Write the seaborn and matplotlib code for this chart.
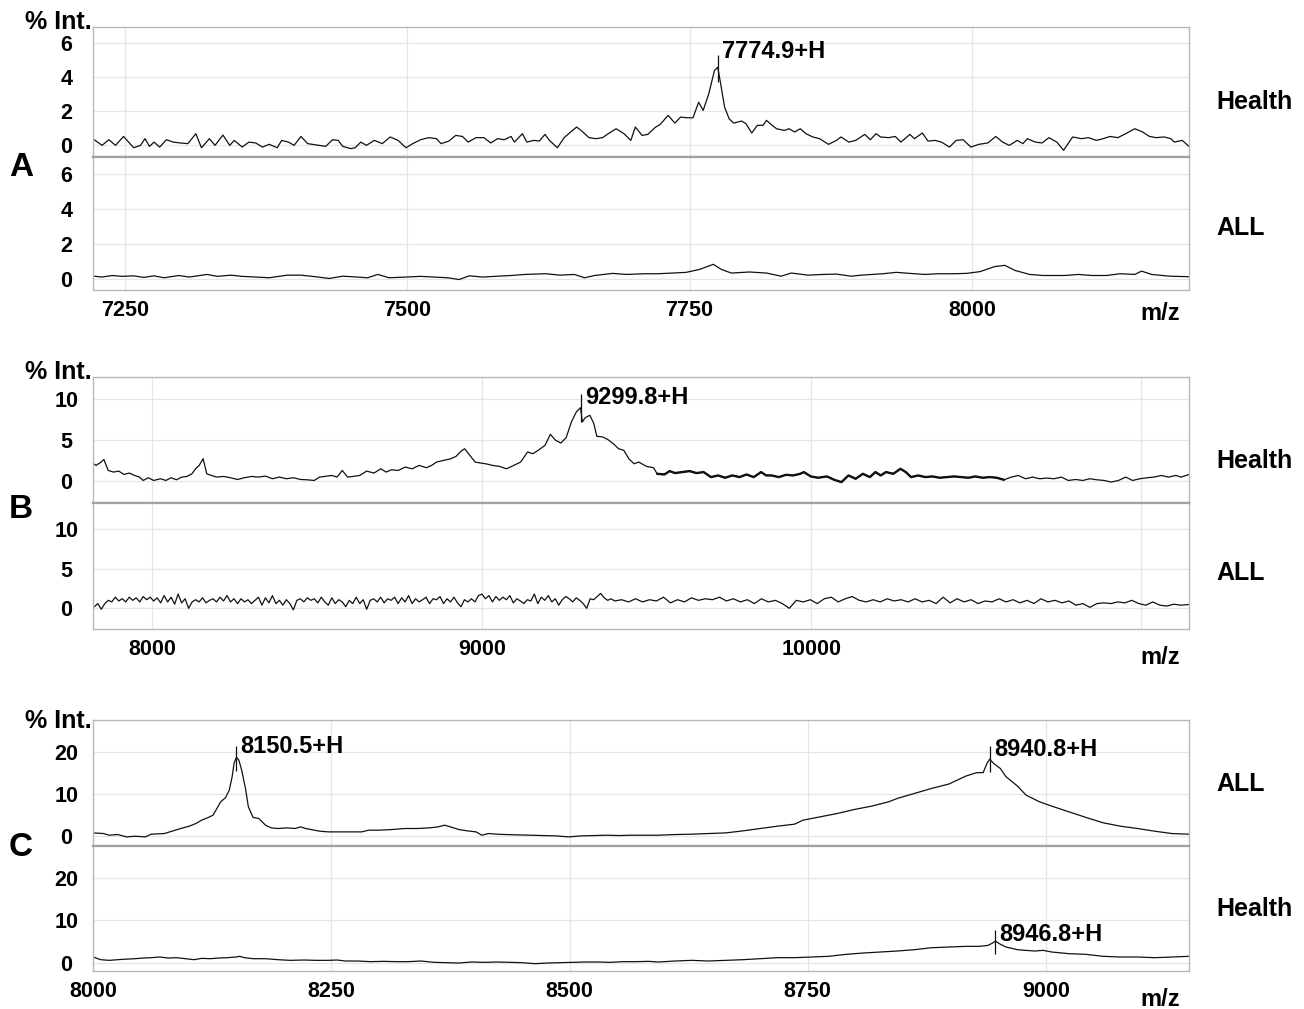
import matplotlib
matplotlib.use('Agg')
import matplotlib.pyplot as plt
import seaborn as sns
import numpy as np

# ---------------- panel A (m/z 7222-8192) ----------------
a_health_mz = [7223, 7230, 7236, 7242, 7249, 7258, 7264, 7268, 7272, 7276,
               7281, 7287, 7293, 7299, 7306, 7313, 7318, 7325, 7330, 7337,
               7343, 7347, 7354, 7360, 7366, 7372, 7378, 7385, 7389, 7395,
               7400, 7406, 7412, 7422, 7428, 7434, 7439, 7443, 7450, 7454,
               7459, 7464, 7471, 7478, 7485, 7492, 7499, 7505, 7512, 7519,
               7526, 7530, 7537, 7543, 7549, 7554, 7561, 7568, 7574, 7580,
               7586, 7592, 7595, 7602, 7606, 7612, 7617, 7622, 7626, 7633,
               7639, 7643, 7650, 7654, 7661, 7667, 7673, 7678, 7685, 7692,
               7698, 7702,
               7708, 7713, 7720, 7724, 7731, 7737, 7742, 7748, 7753, 7758,
               7762, 7767, 7772, 7774.9, 7777, 7781, 7785, 7789, 7796, 7800,
               7805, 7810, 7815, 7818, 7823, 7827, 7834, 7838, 7843, 7848,
               7853, 7859, 7865, 7873, 7880, 7884, 7891, 7897, 7905, 7910,
               7915, 7919, 7926, 7932, 7937, 7945, 7949, 7956, 7961, 7967,
               7973, 7980, 7986, 7992, 7999, 8006, 8014, 8021, 8027, 8033,
               8040, 8045, 8049, 8056, 8062, 8068, 8075, 8081, 8089, 8097,
               8103, 8110, 8116, 8122, 8129, 8136, 8144, 8151, 8157, 8163,
               8170, 8176, 8179, 8186, 8192]
a_health_int = [0.33, 0.0, 0.33, 0.0, 0.52, -0.14, 0.0, 0.39, -0.06, 0.19,
                -0.1, 0.33, 0.19, 0.14, 0.1, 0.68, -0.14, 0.39, 0.0, 0.6,
                0.0, 0.29, -0.1, 0.19, 0.14, -0.1, 0.06, -0.14, 0.29, 0.19,
                0.0, 0.52, 0.1, 0.0, -0.06, 0.33, 0.29, -0.06, -0.19, -0.14,
                0.19, 0.0, 0.29, 0.1, 0.49, 0.29, -0.14, 0.1, 0.33, 0.45,
                0.39, 0.1, 0.25, 0.58, 0.52, 0.19, 0.45, 0.45, 0.14, 0.39,
                0.33, 0.52, 0.19, 0.68, 0.19, 0.29, 0.25, 0.64, 0.29, -0.14,
                0.45, 0.68, 1.07, 0.87, 0.45, 0.39, 0.45, 0.68, 0.97, 0.68,
                0.29, 1.07,
                0.58, 0.64, 1.07, 1.22, 1.75, 1.3, 1.65, 1.61, 1.61, 2.52,
                2.04, 3.01, 4.37, 4.56, 3.79, 2.23, 1.55, 1.3, 1.42, 1.26,
                0.72, 1.17, 1.17, 1.46, 1.17, 0.97, 0.87, 0.97, 0.78, 0.97,
                0.68, 0.49, 0.39, 0.06, 0.29, 0.49, 0.19, 0.29, 0.64, 0.33,
                0.68, 0.49, 0.45, 0.52, 0.19, 0.64, 0.39, 0.72, 0.25, 0.29,
                0.19, -0.1, 0.29, 0.33, -0.1, 0.06, 0.14, 0.52, 0.19, 0.0,
                0.29, 0.1, 0.39, 0.19, 0.14, 0.45, 0.19, -0.29, 0.49, 0.39,
                0.45, 0.29, 0.39, 0.52, 0.45, 0.68, 0.97, 0.78, 0.52, 0.45,
                0.49, 0.39, 0.19, 0.29, -0.06]

a_all_mz = [7223, 7230, 7239, 7248, 7258, 7267, 7276, 7285, 7298, 7307,
            7323, 7332, 7344, 7354, 7366, 7378, 7394, 7406, 7419, 7431,
            7443, 7456, 7465, 7474, 7484, 7499, 7512, 7524, 7536, 7546,
            7555, 7567, 7580, 7592, 7604, 7623, 7635, 7648, 7657, 7666,
            7682, 7694, 7710, 7722, 7735, 7747, 7759, 7771, 7778, 7787,
            7803, 7818, 7831, 7840, 7855, 7868, 7880, 7893, 7902, 7921,
            7933, 7945, 7958, 7970, 7983, 7995, 8007, 8020, 8029, 8038,
            8051, 8063, 8082, 8094, 8106, 8119, 8131, 8144, 8150, 8159,
            8175, 8192]
a_all_int = [0.14, 0.09, 0.18, 0.13, 0.16, 0.07, 0.16, 0.05, 0.18, 0.09,
             0.24, 0.13, 0.2, 0.13, 0.09, 0.05, 0.2, 0.2, 0.11, 0.01,
             0.14, 0.09, 0.05, 0.24, 0.05, 0.09, 0.13, 0.09, 0.05, -0.05,
             0.16, 0.09, 0.14, 0.18, 0.24, 0.28, 0.2, 0.24, 0.05, 0.18,
             0.3, 0.24, 0.28, 0.28, 0.32, 0.36, 0.53, 0.82, 0.53, 0.32,
             0.38, 0.32, 0.14, 0.32, 0.2, 0.24, 0.26, 0.14, 0.2, 0.28,
             0.36, 0.3, 0.24, 0.28, 0.28, 0.3, 0.4, 0.69, 0.76, 0.47,
             0.24, 0.18, 0.18, 0.24, 0.18, 0.18, 0.28, 0.24, 0.43, 0.24,
             0.14, 0.11]

# ---------------- panel B (m/z 7821-11145) ----------------
b_health_mz = [7823, 7830, 7846, 7854, 7867, 7883, 7899, 7915, 7931, 7947,
               7962, 7973, 7989, 8005, 8026, 8042, 8058, 8074, 8090, 8106,
               8121, 8132, 8143, 8155, 8166, 8180, 8196, 8217, 8238, 8259,
               8280, 8302, 8323, 8344, 8365, 8386, 8408, 8429, 8450, 8471,
               8492, 8508, 8524, 8545, 8561, 8577, 8593, 8609, 8630, 8651,
               8673, 8694, 8710, 8726, 8747, 8768, 8789, 8810, 8832, 8848,
               8863, 8885, 8906, 8922, 8938, 8948, 8964, 8980, 8996, 9012,
               9033, 9054, 9075, 9097, 9118, 9139, 9155, 9171, 9192, 9208,
               9224, 9240, 9256, 9272, 9287, 9299.8, 9305, 9314, 9328, 9340,
               9349, 9367, 9383, 9399, 9415, 9431, 9446, 9462, 9476,
               9500, 9521, 9532, 9554, 9570, 9586, 9608, 9630, 9651, 9673,
               9695, 9717, 9738, 9760, 9782, 9803, 9825, 9847, 9863, 9879,
               9901, 9923, 9944, 9966, 9977, 9998, 10020, 10047, 10069, 10091,
               10112, 10134, 10156, 10177, 10194, 10210, 10226, 10248, 10270, 10286,
               10302, 10324, 10345, 10367, 10389, 10411, 10432, 10454, 10476, 10497,
               10519, 10541, 10562, 10584, 10606, 10627, 10649, 10671, 10692, 10714,
               10736, 10758, 10779, 10801, 10823, 10844, 10866, 10888, 10909, 10931,
               10953, 10974, 10996, 11018, 11039, 11061, 11083, 11105, 11121, 11145]
b_health_int = [2.15, 1.95, 2.36, 2.68, 1.34, 1.14, 1.26, 0.85, 1.02, 0.73,
                0.53, 0.12, 0.45, 0.12, 0.33, 0.12, 0.45, 0.2, 0.53, 0.61,
                0.93, 1.54, 1.95, 2.76, 0.93, 0.73, 0.53, 0.61, 0.45, 0.24,
                0.45, 0.61, 0.53, 0.65, 0.33, 0.53, 0.33, 0.45, 0.24, 0.2,
                0.12, 0.53, 0.61, 0.73, 0.53, 1.34, 0.53, 0.61, 0.73, 1.26,
                1.02, 1.54, 1.14, 1.42, 1.34, 1.75, 1.54, 1.95, 1.67, 1.95,
                2.36, 2.56, 2.76, 3.05, 3.7, 3.98, 3.17, 2.36, 2.24, 2.15,
                1.95, 1.83, 1.54, 1.95, 2.36, 3.58, 3.37, 3.78, 4.39, 5.73,
                5.0, 4.67, 5.33, 7.24, 8.46, 8.98, 7.24, 7.76, 8.05, 7.03,
                5.49, 5.41, 5.08, 4.59, 3.98, 3.78, 2.76, 2.15, 2.36,
                1.83, 1.67, 0.93, 0.85, 1.26, 1.02, 1.14, 1.26, 1.02, 1.14,
                0.53, 0.73, 0.45, 0.73, 0.53, 0.85, 0.53, 1.14, 0.73, 0.73,
                0.53, 0.81, 0.73, 0.93, 1.14, 0.61, 0.45, 0.61, 0.2, -0.08,
                0.73, 0.33, 0.93, 0.53, 1.14, 0.73, 1.14, 0.93, 1.54, 1.14,
                0.53, 0.73, 0.53, 0.61, 0.45, 0.53, 0.61, 0.53, 0.45, 0.61,
                0.45, 0.53, 0.45, 0.2, 0.53, 0.73, 0.33, 0.53, 0.33, 0.41,
                0.33, 0.53, 0.12, 0.24, 0.12, 0.33, 0.2, 0.12, -0.08, 0.12,
                0.53, 0.12, 0.33, 0.45, 0.53, 0.73, 0.53, 0.73, 0.53, 0.85]
b_health_dense = (9532, 10584)   # stretch drawn heavier in the source

b_all_int = [0.16, 0.56, -0.16, 0.56, 0.97, 0.77, 1.37, 0.89, 1.17, 0.77,
             1.37, 0.97, 1.29, 0.77, 1.45, 1.05, 1.37, 0.89, 1.29, 0.65,
             1.57, 0.77, 1.37, 0.48, 1.77, 0.65, 1.17, -0.04, 0.77, 1.05,
             0.77, 1.29, 0.65, 0.97, 1.17, 0.77, 1.37, 0.89, 1.57, 0.77,
             1.17, 0.56, 1.17, 0.77, 1.05, 0.56, 0.97, 1.37, 0.36, 1.29,
             0.65, 1.57, 0.56, 0.97, 0.36, 1.05, 0.56, -0.24, 0.97, 1.17,
             0.77, 1.29, 0.97, 1.17, 0.65, 1.37, 0.77, 0.36, 1.29, 0.56,
             1.05, 0.77, 0.16, 0.97, 0.56, 1.37, 0.56, 1.05, -0.16, 0.97,
             1.17, 0.77, 1.37, 0.65, 1.17, 0.97, 1.37, 0.56, 1.29, 0.77,
             1.57, 0.56, 1.17, 0.77, 1.05, 1.37, 0.56, 1.17, 1.05, 1.45,
             0.56, 1.17, 0.77, 1.37, 0.65, 0.16, 1.05, 0.77, 1.17, 0.77,
             1.57, 1.77, 1.17, 1.57, 0.77, 1.45, 0.97, 1.37, 1.05, 1.57,
             0.65, 1.17, 0.89, 0.56, 1.05, 0.89, 1.77, 0.56, 1.37, 0.97,
             1.57, 0.77, 1.17, 0.36, 1.05, 1.45, 1.17, 0.77, 1.29, 0.97,
             0.56, -0.04, 1.17, 1.05, 1.45, 1.85, 1.29, 0.97, 1.17, 0.89,
             1.05, 0.77, 1.17, 0.77, 1.05, 0.89, 1.37, 0.65, 1.05, 0.77,
             1.29, 0.97, 1.17, 1.05, 1.37, 0.89, 1.17, 0.77, 1.05, 0.56,
             1.17, 0.77, 0.97, 0.56, -0.04, 0.97, 0.77, 1.05, 0.56, 1.17,
             1.37, 0.77, 1.17, 1.45, 0.97, 0.77, 1.05, 0.77, 1.17, 0.89,
             1.05, 0.77, 1.17, 0.77, 0.97, 0.56, 1.37, 0.65, 1.17, 0.77,
             1.05, 0.56, 0.89, 0.77, 1.17, 0.77, 1.05, 0.65, 0.97, 0.56,
             1.17, 0.77, 0.97, 0.65, 0.89, 0.36, 0.56, 0.08, 0.56, 0.65,
             0.56, 0.77, 0.65, 0.97, 0.56, 0.36, 0.77, 0.36, 0.24, 0.48,
             0.36, 0.44]
# sampled every ~10.6 m/z up to 9403, then every ~21.2 m/z
b_all_mz = np.r_[np.linspace(7825, 9403, 150), np.linspace(9424, 11120, 81), 11145]

# ---------------- panel C (m/z 8000-9150) ----------------
c_all_mz = [8000, 8011, 8017, 8026, 8035, 8044, 8055, 8061, 8075, 8084,
            8092, 8101, 8108, 8114, 8121, 8126, 8130, 8134, 8139, 8143,
            8146, 8148, 8150.5, 8153, 8156, 8160, 8163, 8168, 8174, 8181,
            8187, 8194, 8203, 8212, 8218, 8223, 8229, 8238, 8247, 8256,
            8269, 8282, 8289, 8300, 8313, 8327, 8340, 8353, 8362, 8369,
            8375, 8384, 8393, 8402, 8408, 8415, 8424, 8433, 8446, 8459,
            8472, 8486, 8499, 8512, 8526, 8539, 8552, 8565, 8579, 8592,
            8611, 8628, 8646, 8664, 8682, 8700, 8718, 8736, 8745, 8763,
            8781, 8799, 8817, 8835, 8844, 8862, 8880, 8898, 8916, 8927,
            8934, 8938, 8940.8, 8945, 8952, 8958, 8970, 8979, 8993, 9006,
            9024, 9042, 9060, 9078, 9096, 9114, 9132, 9150]
c_all_int = [0.71, 0.56, 0.16, 0.32, -0.24, -0.08, -0.24, 0.4, 0.56, 1.19,
             1.75, 2.3, 2.94, 3.73, 4.37, 4.92, 6.51, 8.1, 9.05, 10.87,
             14.05, 17.22, 18.65, 18.0, 15.6, 11.27, 6.9, 4.37, 4.13, 2.54,
             1.9, 1.75, 1.9, 1.75, 2.14, 1.75, 1.5, 1.11, 0.95, 0.95,
             0.95, 0.95, 1.35, 1.35, 1.5, 1.75, 1.75, 1.9, 2.14, 2.54,
             2.14, 1.5, 1.19, 0.95, 0.16, 0.56, 0.4, 0.32, 0.24, 0.16,
             0.08, 0.0, -0.24, 0.0, 0.08, 0.16, 0.08, 0.16, 0.16, 0.16,
             0.32, 0.4, 0.56, 0.71, 1.19, 1.75, 2.3, 2.78, 3.73, 4.52,
             5.32, 6.27, 7.06, 8.1, 8.89, 10.08, 11.27, 12.3, 14.2, 15.0,
             15.0, 17.2, 18.2, 17.2, 16.0, 14.05, 11.83, 9.68, 8.1, 7.06,
             5.71, 4.37, 3.1, 2.3, 1.75, 1.11, 0.56, 0.4]

c_health_mz = [8000, 8008, 8017, 8031, 8044, 8053, 8061, 8070, 8079, 8088,
               8097, 8106, 8114, 8123, 8132, 8141, 8150, 8154, 8159, 8168,
               8181, 8194, 8207, 8221, 8234, 8247, 8256, 8265, 8278, 8291,
               8305, 8318, 8331, 8344, 8358, 8371, 8384, 8397, 8411, 8424,
               8437, 8450, 8464, 8477, 8490, 8503, 8517, 8530, 8543, 8556,
               8570, 8583,
               8593, 8611, 8628, 8646, 8664, 8682, 8700, 8718, 8736, 8754,
               8772, 8790, 8808, 8826, 8844, 8862, 8880, 8898, 8916, 8930,
               8939, 8944, 8946.8, 8951, 8958, 8970, 8979, 8988, 8997, 9006,
               9024, 9042, 9060, 9078, 9096, 9114, 9132, 9150]
c_health_int = [1.34, 0.71, 0.55, 0.79, 0.94, 1.1, 1.18, 1.34, 1.1, 1.18,
                0.94, 0.71, 1.02, 0.94, 1.1, 1.18, 1.34, 1.5, 1.18, 0.94,
                0.94, 0.71, 0.55, 0.63, 0.55, 0.55, 0.63, 0.39, 0.39, 0.24,
                0.31, 0.24, 0.24, 0.39, 0.08, 0.0, -0.08, 0.16, 0.08, 0.16,
                0.08, 0.0, -0.24, -0.08, 0.0, 0.08, 0.16, 0.16, 0.08, 0.24,
                0.24, 0.31,
                0.16, 0.39, 0.55, 0.39, 0.55, 0.71, 0.94, 1.18, 1.18, 1.34,
                1.5, 1.97, 2.28, 2.52, 2.76, 3.07, 3.54, 3.7, 3.86, 3.86,
                4.09, 4.65, 5.12, 4.49, 3.7, 3.07, 2.91, 2.76, 2.91, 2.52,
                2.13, 1.97, 1.5, 1.34, 1.34, 1.18, 1.34, 1.5]

# peak labels: (text, m/z, marker bottom, marker top, text centre)
a_peaks_top = [('7774.9+H', 7774.9, 3.7, 5.3, 5.5)]
b_peaks_top = [('9299.8+H', 9299.8, 7.2, 10.6, 10.2)]
c_peaks_top = [('8150.5+H', 8150.5, 15.5, 21.4, 21.2),
               ('8940.8+H', 8940.8, 15.2, 21.3, 20.5)]
c_peaks_bot = [('8946.8+H', 8946.8, 2.0, 7.8, 6.7)]

LINE = '#111111'
SPINE = '#b8b8b8'
GRID = '#e6e6e6'
W, H = 1304, 1009


def px_axes(fig, x0, y0, x1, y1):
    return fig.add_axes([x0 / W, 1 - y1 / H, (x1 - x0) / W, (y1 - y0) / H])


def style(ax, xlim, ylim, xticks, xlabels, yticks, top):
    ax.set_xlim(xlim)
    ax.set_ylim(ylim)
    ax.set_xticks(xticks)
    ax.set_yticks(yticks)
    ax.set_yticklabels([str(t) for t in yticks], fontsize=15.5,
                       fontweight='bold', ha='center', color='black')
    if top:
        ax.set_xticklabels([''] * len(xticks))
    else:
        ax.set_xticklabels(xlabels, fontsize=15.5, fontweight='bold', color='black')
    ax.tick_params(axis='y', length=0, pad=19)
    ax.tick_params(axis='x', length=0, pad=7)
    ax.grid(True, color=GRID, linewidth=0.9)
    ax.set_facecolor('white')
    for name, s in ax.spines.items():
        s.set_color(SPINE)
        s.set_linewidth(1.0)
    # upper/lower join drawn as one heavier grey rule
    join = 'bottom' if top else 'top'
    ax.spines[join].set_color('#a2a2a2')
    ax.spines[join].set_linewidth(1.6)
    ax.set_xlabel('')
    ax.set_ylabel('')


def trace(ax, mz, inten, lw=0.9):
    sns.lineplot(x=mz, y=inten, ax=ax, color=LINE, linewidth=lw,
                 estimator=None, sort=False, legend=False)


def peaks(ax, plist):
    for text, mz, y0, y1, yt in plist:
        ax.vlines(mz, y0, y1, color=LINE, linewidth=0.9)
        ax.annotate(text, xy=(mz, yt), xytext=(3, 0), textcoords='offset points',
                    ha='left', va='center', fontsize=17, fontweight='bold',
                    color='black')


def main():
    sns.set_theme(style='whitegrid')
    plt.rcParams['font.family'] = ['Liberation Sans', 'DejaVu Sans']
    plt.rcParams['text.color'] = 'black'

    fig = plt.figure(figsize=(13.04, 10.09), dpi=100)
    fig.patch.set_facecolor('white')

    # A
    a_xlim = (7222, 8192)
    a_xt = [7250, 7500, 7750, 8000]
    ax1 = px_axes(fig, 93, 27, 1189, 157)
    ax2 = px_axes(fig, 93, 157, 1189, 290)
    trace(ax1, a_health_mz, a_health_int)
    trace(ax2, a_all_mz, a_all_int)
    style(ax1, a_xlim, (-0.68, 6.91), a_xt, None, [0, 2, 4, 6], True)
    style(ax2, a_xlim, (-0.65, 6.96), a_xt, [str(t) for t in a_xt], [0, 2, 4, 6], False)
    peaks(ax1, a_peaks_top)

    # B
    b_xlim = (7821, 11145)
    b_xt = [8000, 9000, 10000, 11000]
    ax3 = px_axes(fig, 93, 377, 1189, 503)
    ax4 = px_axes(fig, 93, 503, 1189, 629)
    trace(ax3, b_health_mz, b_health_int)
    mz = np.array(b_health_mz)
    sel = (mz >= b_health_dense[0]) & (mz <= b_health_dense[1])
    trace(ax3, mz[sel], np.array(b_health_int)[sel], lw=1.7)
    trace(ax4, b_all_mz, b_all_int)
    style(ax3, b_xlim, (-2.62, 12.7), b_xt, None, [0, 5, 10], True)
    style(ax4, b_xlim, (-2.66, 13.3), b_xt, ['8000', '9000', '10000', ''], [0, 5, 10], False)
    peaks(ax3, b_peaks_top)

    # C
    c_xlim = (8000, 9150)
    c_xt = [8000, 8250, 8500, 8750, 9000]
    ax5 = px_axes(fig, 93, 720, 1189, 846)
    ax6 = px_axes(fig, 93, 846, 1189, 971)
    trace(ax5, c_all_mz, c_all_int)
    trace(ax6, c_health_mz, c_health_int)
    style(ax5, c_xlim, (-2.4, 27.5), c_xt, None, [0, 10, 20], True)
    style(ax6, c_xlim, (-1.97, 27.6), c_xt, [str(t) for t in c_xt], [0, 10, 20], False)
    peaks(ax5, c_peaks_top)
    peaks(ax6, c_peaks_bot)

    # surrounding labels
    def ftext(x, y, s, size, ha='left'):
        fig.text(x / W, 1 - y / H, s, fontsize=size, fontweight='bold',
                 ha=ha, va='center', color='black')

    for y in (22, 372, 721):
        ftext(92, y, '% Int.', 18, ha='right')
    for y, s in ((167, 'A'), (510, 'B'), (847, 'C')):
        ftext(21, y, s, 24, ha='center')
    for y in (313, 657, 1000):
        ftext(1160, y, 'm/z', 17, ha='center')
    for y, s in ((102, 'Health'), (228, 'ALL'), (461, 'Health'),
                 (573, 'ALL'), (784, 'ALL'), (909, 'Health')):
        ftext(1216, y, s, 18)

    fig.savefig('out.png', dpi=100, facecolor='white')
    plt.close(fig)


if __name__ == '__main__':
    main()
